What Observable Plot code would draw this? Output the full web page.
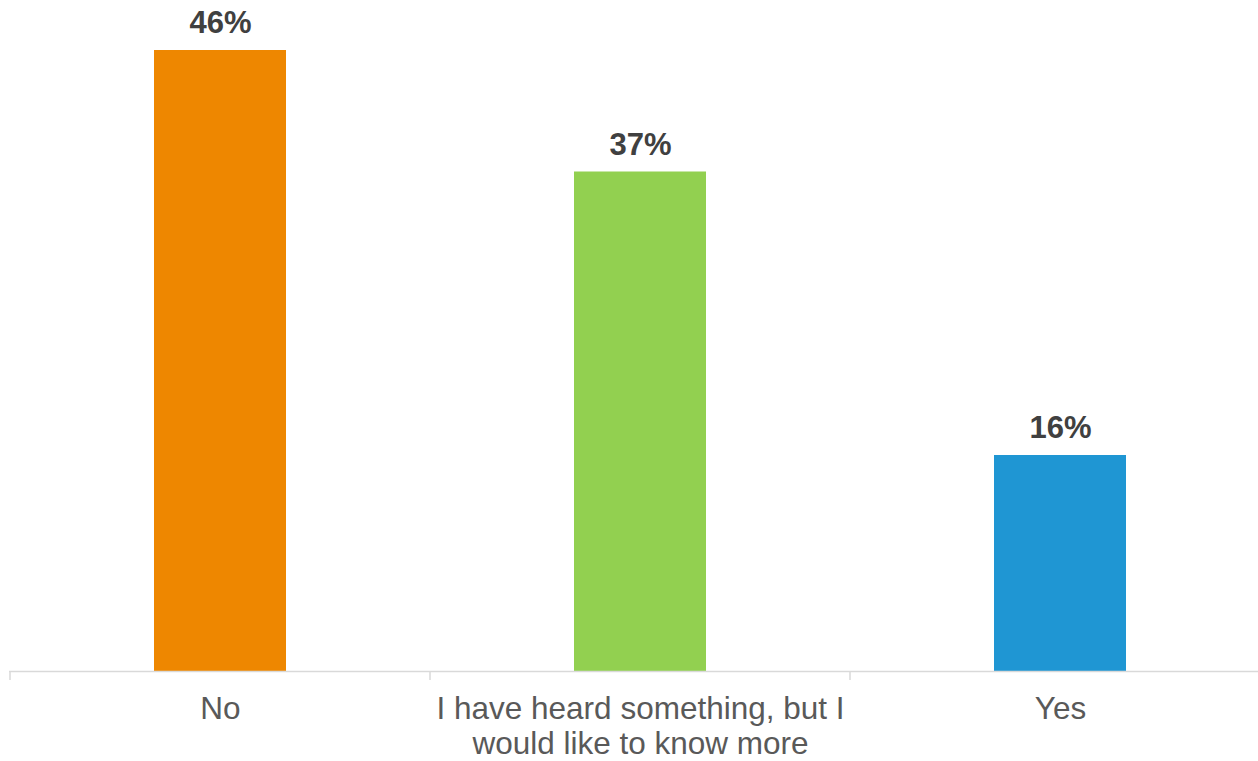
<!DOCTYPE html>
<html>
<head>
<meta charset="utf-8">
<script src="https://cdn.jsdelivr.net/npm/d3@7"></script>
<script src="https://cdn.jsdelivr.net/npm/@observablehq/plot@0.6"></script>
<style>
  html, body { margin: 0; padding: 0; background: #fff; overflow: hidden; }
  #chart svg { display: block; max-width: none !important; }
</style>
</head>
<body>
<div id="chart"></div>
<script>
const categories = ["No", "I have heard something, but I would like to know more", "Yes"];
const tickLabels = ["No", "I have heard something, but I\nwould like to know more", "Yes"];
const values = [46, 37, 16];
const colors = ["#EE8700", "#92D050", "#1F96D3"];

const data = categories.map((c, i) => ({category: c, value: values[i], color: colors[i]}));
const labelOf = new Map(categories.map((c, i) => [c, tickLabels[i]]));

const chart = Plot.plot({
  width: 1270,
  height: 761,
  marginLeft: 9,
  marginRight: 0,
  marginTop: 50,
  marginBottom: 90,
  style: {fontFamily: "Liberation Sans, Arial, sans-serif", background: "#fff", maxWidth: "none"},
  x: {domain: categories, paddingInner: 0.686, paddingOuter: 0.343, label: null},
  y: {domain: [0, 46], axis: null},
  marks: [
    Plot.barY(data, {x: "category", y: "value", fill: "color"}),
    Plot.ruleY([0], {stroke: "#D9D9D9", strokeWidth: 1.5}),
    Plot.text(data, {x: "category", y: "value", text: d => d.value + "%", dy: -27, fill: "#404040", fontSize: 31, fontWeight: "bold"}),
    Plot.axisX({tickSize: 0, tickPadding: 23, fontSize: 31.5, fill: "#595959", lineHeight: 1.11, lineAnchor: "top", tickFormat: d => labelOf.get(d)})
  ]
});

document.getElementById("chart").appendChild(chart);

// category boundary ticks derived from the band scale
const xs = chart.scale("x");
const ys = chart.scale("y");
const gap = (xs.step - xs.bandwidth) / 2;
const bounds = categories.map(c => xs.apply(c) - gap);
bounds.push(xs.apply(categories[categories.length - 1]) + xs.bandwidth + gap);
const y0 = ys.apply(0);
d3.select(chart).append("g")
  .selectAll("line").data(bounds).join("line")
  .attr("x1", d => d).attr("x2", d => d)
  .attr("y1", y0).attr("y2", y0 + 9)
  .attr("stroke", "#D9D9D9").attr("stroke-width", 1.5);
</script>
</body>
</html>
